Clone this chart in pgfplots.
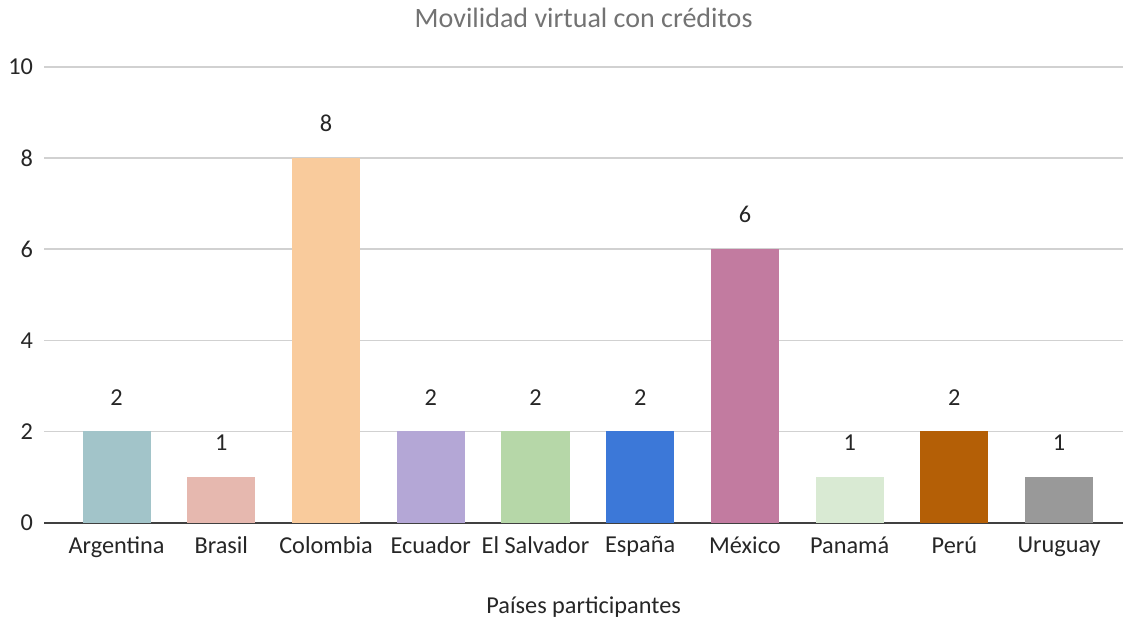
\documentclass[border=0pt]{standalone}
\usepackage{pgfplots}
\pgfplotsset{compat=1.18}
\usepackage{fontspec}
\setmainfont{Carlito}
\definecolor{cArg}{HTML}{A2C4C9}
\definecolor{cBra}{HTML}{E6B8AF}
\definecolor{cCol}{HTML}{F9CB9C}
\definecolor{cEcu}{HTML}{B4A7D6}
\definecolor{cSal}{HTML}{B6D7A8}
\definecolor{cEsp}{HTML}{3C78D8}
\definecolor{cMex}{HTML}{C27BA0}
\definecolor{cPan}{HTML}{D9EAD3}
\definecolor{cPer}{HTML}{B45F06}
\definecolor{cUru}{HTML}{999999}
\begin{document}
\begin{tikzpicture}
\begin{axis}[
  scale only axis,
  width=430.8pt, height=182pt,
  xmin=-0.69, xmax=9.61,
  ymin=0, ymax=10,
  ytick={2,4,6,8,10},
  extra y ticks={0},
  extra y tick style={grid style={black!75, line width=0.8pt}},
  xtick={0,...,9},
  xticklabels={Argentina,Brasil,Colombia,Ecuador,El Salvador,España,México,Panamá,Perú,Uruguay},
  ymajorgrids,
  grid style={black!18, line width=0.6pt},
  axis line style={draw=none},
  major tick length=0pt,
  tick label style={font=\fontsize{9.7pt}{11pt}\selectfont, text=black!85},
  /pgf/number format/assume math mode=true,
  yticklabel style={xshift=-1pt},
  xticklabel style={yshift=-2pt},
  title={Movilidad virtual con créditos},
  title style={font=\fontsize{11.2pt}{13pt}\selectfont, text=black!55, yshift=6pt},
  xlabel={Países participantes},
  xlabel style={font=\fontsize{9.7pt}{11pt}\selectfont, text=black!85, yshift=-9pt},
  ybar, bar width=27.2pt, bar shift=0pt,
  nodes near coords,
  every node near coord/.append style={font=\fontsize{9.7pt}{11pt}\selectfont, text=black!85, yshift=7pt},
  clip=false,
]
\addplot[fill=cArg, draw=none] coordinates {(0,2)};
\addplot[fill=cBra, draw=none] coordinates {(1,1)};
\addplot[fill=cCol, draw=none] coordinates {(2,8)};
\addplot[fill=cEcu, draw=none] coordinates {(3,2)};
\addplot[fill=cSal, draw=none] coordinates {(4,2)};
\addplot[fill=cEsp, draw=none] coordinates {(5,2)};
\addplot[fill=cMex, draw=none] coordinates {(6,6)};
\addplot[fill=cPan, draw=none] coordinates {(7,1)};
\addplot[fill=cPer, draw=none] coordinates {(8,2)};
\addplot[fill=cUru, draw=none] coordinates {(9,1)};
\end{axis}
\end{tikzpicture}
\end{document}
